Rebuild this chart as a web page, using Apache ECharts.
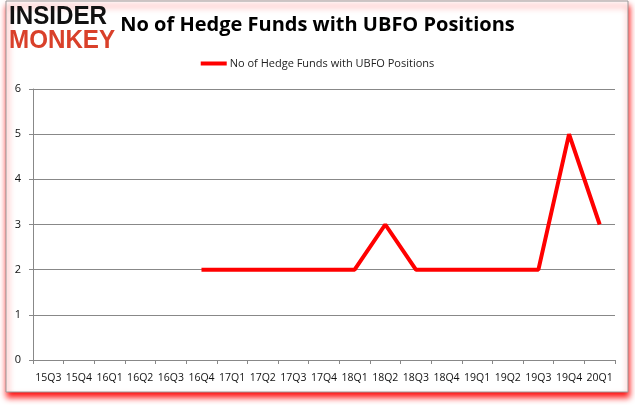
<!DOCTYPE html>
<html><head><meta charset="utf-8">
<script src="https://cdn.jsdelivr.net/npm/echarts@6/dist/echarts.min.js"></script>
<style>html,body{margin:0;padding:0;background:#fff}#c{width:635px;height:405px}</style>
</head><body><div id="c"></div>
<script>
var categories = ['15Q3','15Q4','16Q1','16Q2','16Q3','16Q4','17Q1','17Q2','17Q3','17Q4','18Q1','18Q2','18Q3','18Q4','19Q1','19Q2','19Q3','19Q4','20Q1'];
var hedgeFunds = [null,null,null,null,null,2,2,2,2,2,2,3,2,2,2,2,2,5,3];
var seriesName = 'No of Hedge Funds with UBFO Positions';
var titleText = 'No of Hedge Funds with UBFO Positions';

var chart = echarts.init(document.getElementById('c'), null, {renderer:'canvas'});
chart.setOption({
  backgroundColor: '#fff',
  animation: false,
  title: {
    text: titleText, left: 'center', top: 10,
    textStyle: {fontFamily: 'Open Sans', fontWeight: 'bold', fontSize: 20, color: '#000'}
  },
  legend: {
    top: 53, left: 'center', itemWidth: 26, itemHeight: 4, itemGap: 4,
    icon: 'rect',
    textStyle: {fontFamily: 'Open Sans', fontSize: 11, color: '#222', padding: [0,0,0,-2]},
    data: [seriesName]
  },
  graphic: [
    {type:'rect', z:-10, shape:{x:6,y:1,width:622,height:391},
     style:{fill:'#fff', stroke:'#999', lineWidth:1, shadowColor:'rgba(255,0,0,0.95)', shadowBlur:6, shadowOffsetY:5, shadowOffsetX:1}},
    {type:'text', x:9, y:4, scaleX:0.93, z:10,
     style:{text:'INSIDER', fill:'#111', font:'900 26px "Liberation Sans"'}},
    {type:'text', x:9, y:28, scaleX:0.93, z:10,
     style:{text:'MONKEY', fill:'#d9402a', font:'900 26px "Liberation Sans"'}}
  ],
  grid: {left: 33, right: 20, top: 89, bottom: 45},
  xAxis: {
    type: 'category', data: categories, boundaryGap: true,
    axisLine: {lineStyle: {color: '#888'}},
    axisTick: {show: true, length: 4, lineStyle: {color: '#888'}, alignWithLabel: false},
    axisLabel: {interval: 0, color: '#111', fontFamily: 'Open Sans', fontSize: 10.5, margin: 13}
  },
  yAxis: {
    type: 'value', min: 0, max: 6, interval: 1,
    axisLine: {show: true, lineStyle: {color: '#888'}},
    axisTick: {show: true, length: 4, lineStyle: {color: '#888'}},
    splitLine: {lineStyle: {color: '#888', width: 1}},
    axisLabel: {color: '#111', fontFamily: 'Open Sans', fontSize: 11, margin: 12}
  },
  series: [{
    name: seriesName, type: 'line', data: hedgeFunds,
    showSymbol: false, symbol: 'none', connectNulls: false,
    lineStyle: {color: '#ff0000', width: 4},
    itemStyle: {color: '#ff0000'}
  }]
});
</script></body></html>
